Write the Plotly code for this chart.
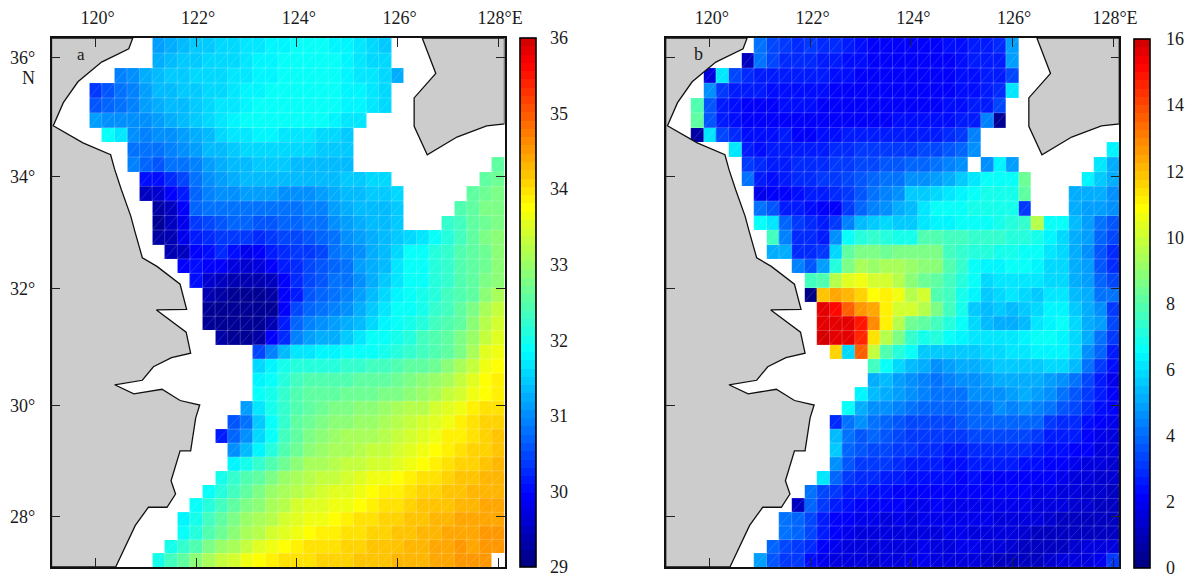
import math
import plotly.graph_objects as go

WIDTH, HEIGHT = 1197, 579
N_COLS, N_ROWS = 36, 37
LON_WEST, CELL = 119.125, 0.25
LAT_SOUTH = 27.08
LON_TICKS = [120, 122, 124, 126, 128]
LON_LABELS = ["120°", "122°", "124°", "126°", "128°E"]
LAT_TICKS = [36, 34, 32.06, 30, 28]
LAT_LABELS = ["36°", "34°", "32°", "30°", "28°"]
SAL_TICKS = [29, 30, 31, 32, 33, 34, 35, 36]
TEMP_TICKS = [0, 2, 4, 6, 8, 10, 12, 14, 16]

# rows are numbered from the north; (row, first column, values)
panel_a = [
(0,8,[31.1,31.2,31.4,31.5,31.5,31.6,31.6,31.65,31.72,31.78,31.82,31.87,31.87,31.87,31.82,31.76,31.66,31.58,31.5]),
(1,8,[31.25,31.35,31.45,31.5,31.55,31.55,31.6,31.68,31.75,31.8,31.85,31.9,31.9,31.9,31.85,31.76,31.7,31.62,31.55]),
(2,5,[30.9,31.0,31.2,31.4,31.45,31.5,31.55,31.6,31.6,31.65,31.7,31.75,31.8,31.85,31.85,31.9,31.85,31.85,31.75,31.7,31.65,31.55,31.2]),
(3,3,[30.35,30.6,30.85,30.95,31.1,31.3,31.4,31.45,31.5,31.6,31.6,31.65,31.75,31.8,31.85,31.9,31.95,31.95,31.9,31.85,31.8,31.75,31.65,31.6]),
(4,3,[30.6,30.7,30.85,30.95,31.1,31.25,31.35,31.4,31.5,31.6,31.65,31.7,31.8,31.85,31.9,31.95,31.95,31.9,31.9,31.85,31.8,31.75,31.7,31.6]),
(5,3,[31.1,31.05,31.0,31.0,31.05,31.15,31.2,31.3,31.45,31.55,31.65,31.75,31.85,31.9,31.9,31.9,31.9,31.85,31.85,31.8,31.7,31.65]),
(6,4,[31.9,31.7,31.0,30.95,31.0,31.05,31.15,31.2,31.4,31.55,31.65,31.7,31.75,31.75,31.7,31.7,31.65,31.6,31.55,31.5]),
(7,6,[30.85,30.8,30.85,30.95,31.05,31.1,31.3,31.4,31.5,31.6,31.6,31.6,31.6,31.55,31.55,31.5,31.45,31.45]),
(8,6,[30.9,30.7,30.6,30.75,30.85,30.95,31.1,31.2,31.35,31.4,31.5,31.5,31.45,31.4,31.35,31.4,31.4,31.4]),
(8,35,[32.55]),
(9,7,[30.0,30.05,30.25,30.45,30.8,31.0,31.15,31.2,31.3,31.3,31.3,31.3,31.3,31.3,31.35,31.4,31.45,31.5,31.55,31.55]),
(9,34,[32.55,32.7]),
(10,7,[29.5,29.6,29.9,30.2,30.65,30.9,31.0,31.05,31.1,31.15,31.1,31.05,31.05,31.05,31.1,31.2,31.3,31.4,31.45,31.5,31.55]),
(10,33,[32.6,32.7,32.75]),
(11,8,[29.3,29.5,29.9,30.7,30.8,30.85,30.8,30.8,30.8,30.85,30.85,30.85,30.9,30.95,31.1,31.2,31.3,31.35,31.4,31.45]),
(11,32,[32.45,32.6,32.75,32.8]),
(12,8,[29.2,29.45,29.85,30.35,30.5,30.6,30.65,30.65,30.6,30.6,30.65,30.7,30.75,30.85,31.0,31.1,31.2,31.3,31.35,31.45]),
(12,31,[32.2,32.35,32.55,32.7,32.8]),
(13,8,[29.25,29.4,29.8,30.15,30.3,30.4,30.4,30.35,30.3,30.4,30.45,30.5,30.55,30.7,30.85,31.0,31.1,31.25,31.35,31.5,31.55,31.7,31.85,32.1,32.3,32.6,32.75,32.85]),
(14,9,[29.35,29.5,29.9,30.05,30.25,30.0,29.85,29.95,30.2,30.3,30.35,30.4,30.45,30.75,30.9,31.05,31.2,31.35,31.6,31.85,31.95,32.1,32.25,32.4,32.55,32.7,32.85]),
(15,10,[29.9,30.0,29.9,29.95,29.75,29.6,29.7,29.9,30.1,30.3,30.5,30.55,30.65,30.85,31.1,31.25,31.4,31.7,31.85,31.95,32.1,32.25,32.4,32.55,32.7,32.9]),
(16,11,[30.05,29.6,29.45,29.4,29.35,29.35,29.5,29.9,30.25,30.5,30.55,30.75,30.85,31.05,31.25,31.5,31.7,31.85,31.95,32.1,32.25,32.4,32.6,32.75,32.9]),
(17,12,[29.35,29.25,29.2,29.2,29.2,29.3,29.9,30.2,30.55,30.65,30.75,30.95,31.1,31.3,31.55,31.75,31.9,32.0,32.15,32.3,32.45,32.6,32.85,33.05]),
(18,12,[29.15,29.15,29.15,29.15,29.15,29.2,29.9,30.45,30.7,30.8,30.9,31.05,31.2,31.45,31.65,31.85,31.95,32.05,32.2,32.3,32.5,32.75,33.1,33.3]),
(19,12,[29.15,29.15,29.15,29.15,29.15,29.4,30.1,30.7,30.95,31.05,31.1,31.2,31.4,31.6,31.8,31.95,32.05,32.15,32.3,32.45,32.6,32.9,33.2,33.4]),
(20,13,[29.25,29.2,29.2,29.25,29.9,30.3,30.9,31.1,31.2,31.25,31.45,31.7,31.85,31.95,32.05,32.15,32.3,32.4,32.6,32.75,33.0,33.3,33.5]),
(21,16,[30.5,30.9,31.3,31.65,31.65,31.8,31.8,31.85,31.85,31.95,32.0,32.1,32.2,32.3,32.4,32.6,32.8,33.1,33.5,33.7]),
(22,16,[31.6,31.8,32.0,32.1,32.1,32.15,32.15,32.2,32.25,32.3,32.35,32.4,32.5,32.6,32.7,32.85,33.05,33.3,33.65,33.8]),
(23,16,[31.75,31.95,32.15,32.3,32.4,32.4,32.45,32.45,32.5,32.55,32.6,32.7,32.8,32.85,33.0,33.1,33.3,33.5,33.79,33.92]),
(24,16,[31.85,32.0,32.2,32.45,32.5,32.55,32.6,32.65,32.7,32.7,32.75,32.8,32.85,32.95,33.1,33.3,33.45,33.65,33.79,33.89]),
(25,15,[31.1,31.65,32.0,32.25,32.45,32.6,32.7,32.75,32.8,32.85,32.9,32.95,33.05,33.2,33.25,33.4,33.5,33.7,33.89,33.96,34.03]),
(26,14,[30.6,30.85,31.45,31.95,32.2,32.5,32.7,32.8,32.85,32.9,32.95,33.0,33.1,33.2,33.3,33.4,33.55,33.65,33.82,33.96,34.06,34.09]),
(27,13,[30.15,30.7,31.0,31.6,31.95,32.3,32.55,32.75,32.85,33.0,33.05,33.05,33.1,33.2,33.3,33.4,33.55,33.7,33.86,33.92,34.03,34.09,34.16]),
(28,14,[31.0,31.4,31.75,32.1,32.45,32.7,32.9,33.0,33.1,33.15,33.2,33.3,33.35,33.45,33.55,33.7,33.79,33.92,34.03,34.09,34.13,34.23]),
(29,14,[31.8,32.0,32.2,32.45,32.7,32.85,33.05,33.15,33.25,33.3,33.35,33.4,33.45,33.55,33.7,33.79,33.92,33.99,34.06,34.13,34.2,34.26]),
(30,13,[32.05,32.25,32.4,32.55,32.75,32.95,33.1,33.25,33.35,33.35,33.45,33.5,33.6,33.7,33.79,33.89,33.96,34.03,34.09,34.16,34.23,34.3,34.3]),
(31,12,[31.95,32.15,32.35,32.55,32.75,32.95,33.1,33.25,33.35,33.45,33.5,33.55,33.65,33.79,33.86,33.92,33.99,34.06,34.13,34.16,34.23,34.3,34.33,34.33]),
(32,11,[31.85,32.15,32.3,32.55,32.75,32.9,33.1,33.25,33.4,33.5,33.55,33.6,33.7,33.75,33.86,33.96,34.03,34.09,34.16,34.2,34.23,34.3,34.33,34.37,34.4]),
(33,10,[31.75,32.0,32.3,32.6,32.75,32.95,33.1,33.25,33.4,33.55,33.65,33.7,33.79,33.89,33.96,33.99,34.06,34.13,34.16,34.2,34.26,34.3,34.37,34.37,34.4,34.43]),
(34,10,[31.85,32.15,32.45,32.7,32.9,33.05,33.25,33.4,33.55,33.7,33.79,33.86,33.92,33.99,34.03,34.06,34.13,34.16,34.2,34.26,34.3,34.37,34.4,34.43,34.47,34.47]),
(35,9,[32.0,32.25,32.45,32.75,32.95,33.15,33.35,33.5,33.65,33.79,33.89,33.96,33.99,34.03,34.06,34.13,34.16,34.2,34.23,34.3,34.33,34.37,34.4,34.47,34.43,34.47,34.47]),
(36,8,[32.05,32.3,32.55,32.85,33.1,33.3,33.45,33.65,33.79,33.89,33.96,33.99,34.03,34.06,34.09,34.13,34.16,34.2,34.23,34.3,34.3,34.33,34.4,34.43,34.47,34.5,34.5]),
]

panel_b = [
(0,7,[4.2,3.4,3.0,2.9,3.0,2.8,2.9,2.5,2.3,2.2,2.2,2.2,2.2,2.1,2.2,2.3,2.4,2.5,2.7,2.8,4.8]),
(1,6,[1.2,4.1,3.3,2.9,2.8,2.8,2.7,2.6,2.4,2.25,2.2,2.1,2.1,2.1,2.1,2.1,2.2,2.3,2.5,2.6,2.7,4.9]),
(2,3,[1.5,6.0,3.3,2.9,2.7,2.6,2.7,2.7,2.6,2.5,2.4,2.3,2.15,2.1,2.0,2.0,2.0,2.0,2.05,2.15,2.25,2.4,2.55,2.7,3.4]),
(3,3,[4.6,3.0,2.6,2.5,2.5,2.4,2.4,2.4,2.4,2.3,2.2,2.2,2.1,2.0,2.0,2.0,2.0,2.05,2.1,2.2,2.3,2.45,2.6,2.75,6.2]),
(4,2,[7.9,3.6,2.6,2.4,2.2,2.1,2.2,2.3,2.3,2.3,2.2,2.2,2.2,2.1,2.1,2.1,2.1,2.1,2.1,2.2,2.3,2.4,2.55,2.7,3.4]),
(5,2,[8.0,3.5,2.5,2.3,2.2,2.2,2.2,2.2,2.2,2.2,2.1,2.0,2.0,2.1,2.2,2.2,2.3,2.3,2.3,2.3,2.4,2.5,2.7,4.3,0.4]),
(6,2,[0.5,6.1,3.3,2.9,2.3,2.3,2.4,2.5,2.2,2.2,2.3,2.4,2.5,2.5,2.5,2.5,2.5,2.6,2.7,2.7,2.8,3.0,4.4]),
(7,5,[6.2,2.6,2.4,2.5,2.5,2.6,2.6,2.7,2.8,2.8,3.0,3.1,3.2,3.2,3.2,3.3,3.3,3.5,3.8,4.5]),
(7,35,[6.4]),
(8,6,[3.2,2.8,2.7,2.7,2.8,2.8,2.9,3.0,3.2,3.3,3.4,3.6,3.7,3.8,3.9,4.1,4.4,4.7]),
(8,25,[4.7,6.4,4.8]),
(8,34,[6.2,5.2]),
(9,6,[4.2,2.6,2.3,2.5,2.8,2.9,3.0,3.1,3.3,3.5,3.8,4.0,4.2,4.5,4.7,4.9,5.2,5.7,6.2,6.5,6.6,6.6,8.4]),
(9,33,[6.3,5.6,5.2]),
(10,7,[1.9,2.1,2.2,2.3,2.5,2.7,2.8,3.2,3.6,4.0,4.3,4.7,5.6,5.5,5.9,6.1,6.4,6.6,6.8,6.9,6.9,8.0]),
(10,32,[5.2,5.1,5.0,4.7]),
(11,7,[4.0,3.6,2.6,2.5,2.3,2.2,2.2,3.2,3.9,4.3,4.6,5.0,5.4,6.1,6.6,6.7,6.7,6.8,6.8,6.8,6.8,3.2]),
(11,32,[5.2,4.8,4.8,4.5]),
(12,7,[6.5,6.0,3.8,3.0,2.8,2.6,3.0,4.4,5.3,5.7,5.9,5.7,5.6,6.1,6.3,6.4,6.6,6.7,6.7,6.8,7.0,7.3,9.6,6.6,6.5,5.3,4.9,4.0,3.7]),
(13,8,[7.5,4.4,2.9,2.8,2.7,4.7,6.5,7.2,7.3,7.2,6.9,6.9,7.9,7.9,7.7,7.5,7.4,7.4,7.3,7.2,7.0,6.9,6.3,5.9,5.2,4.9,3.9,3.4]),
(14,8,[5.0,5.0,2.9,2.9,3.1,5.9,8.1,8.5,8.5,8.4,8.5,8.6,8.6,8.5,7.7,7.4,7.2,7.0,6.9,6.9,6.6,6.6,6.1,5.8,5.2,4.7,3.7,2.9]),
(15,10,[4.3,3.5,4.9,7.0,8.5,9.3,9.2,9.3,9.4,9.0,8.8,8.8,7.8,7.3,6.7,6.4,6.4,6.5,6.5,6.3,5.9,5.8,5.2,4.9,3.7,2.9]),
(16,11,[7.7,7.9,9.5,10.3,10.6,10.0,10.1,9.7,8.8,8.4,8.0,7.7,7.1,6.7,5.9,6.1,6.2,6.2,6.2,5.9,5.9,5.2,4.8,3.9,3.3]),
(17,11,[0.2,11.8,12.3,12.2,11.6,10.9,11.0,10.6,9.7,10.0,7.8,7.5,6.8,6.4,5.7,5.8,6.1,5.9,5.6,6.2,6.2,5.4,5.0,4.2,4.0]),
(18,12,[15.5,15.0,13.7,12.6,12.3,11.2,10.2,10.0,9.6,8.5,7.5,6.8,5.7,5.4,5.5,5.4,5.5,5.9,6.3,6.4,5.7,5.0,4.7,3.2]),
(19,12,[15.7,15.7,15.5,14.8,12.9,11.1,9.5,8.3,8.1,7.6,7.0,6.7,5.9,5.4,5.2,5.2,5.4,6.0,6.4,6.5,5.9,5.1,4.8,3.3]),
(20,12,[15.8,15.6,15.6,14.5,11.4,9.5,8.5,7.3,6.9,7.1,6.7,6.4,6.2,6.0,6.0,6.2,6.4,6.5,6.5,6.4,5.9,5.0,4.2,3.0]),
(21,13,[11.5,5.9,13.6,9.8,7.9,7.0,6.5,5.7,5.6,5.5,5.5,5.7,5.8,5.9,6.1,6.2,6.3,6.4,6.3,5.9,4.6,3.8,2.7]),
(22,16,[7.5,6.5,5.9,5.3,5.0,4.7,4.9,5.1,5.1,5.3,5.5,5.6,5.7,5.7,5.9,5.8,5.4,4.0,3.2,2.3]),
(23,16,[5.2,5.3,4.9,4.5,4.3,4.2,4.3,4.6,4.6,4.8,5.0,5.0,5.2,5.0,4.9,4.5,4.0,3.3,2.7,1.8]),
(24,15,[6.3,5.3,5.2,4.9,4.7,4.3,4.1,4.1,4.2,4.7,4.6,4.5,4.8,5.0,4.8,4.6,4.0,3.5,3.0,2.6,2.0]),
(25,14,[6.7,5.0,4.6,4.6,4.3,4.0,3.8,3.8,3.8,3.9,4.0,4.2,4.5,4.3,4.5,4.4,4.0,3.5,3.3,2.9,2.4,2.0]),
(26,13,[2.9,4.2,4.5,4.2,3.9,3.7,3.4,3.4,3.3,3.4,3.5,3.8,3.9,3.9,3.8,3.8,3.8,3.2,2.9,2.8,2.4,2.1,1.9]),
(27,13,[5.3,4.1,3.7,3.8,3.6,3.3,3.2,3.1,3.0,3.1,3.2,3.3,3.4,3.4,3.3,3.3,3.2,2.7,2.5,2.5,2.2,1.9,1.7]),
(28,13,[5.6,3.9,3.5,3.3,3.4,3.0,3.0,2.9,2.8,2.7,2.7,2.8,2.9,2.9,2.9,2.8,2.6,2.4,2.3,2.2,2.0,1.7,1.5]),
(29,13,[4.6,3.5,3.1,3.0,3.0,2.9,2.7,2.6,2.5,2.4,2.4,2.5,2.5,2.5,2.5,2.4,2.3,2.2,2.0,1.9,1.7,1.5,1.4]),
(30,12,[6.1,3.8,3.1,2.9,2.8,2.7,2.5,2.4,2.4,2.3,2.3,2.2,2.3,2.2,2.2,2.2,2.2,2.1,2.0,1.8,1.6,1.5,1.4,1.3]),
(31,11,[4.0,3.3,3.0,2.7,2.6,2.4,2.3,2.2,2.2,2.1,2.1,2.2,2.1,2.1,2.1,2.0,2.0,2.0,1.9,1.8,1.6,1.5,1.4,1.3,1.2]),
(32,10,[1.0,3.8,3.0,2.7,2.3,2.2,2.1,2.0,2.0,1.9,1.9,2.0,1.9,1.9,1.9,1.9,1.8,1.8,1.8,1.7,1.6,1.5,1.4,1.3,1.1,1.1]),
(33,9,[4.0,3.9,3.4,2.6,2.1,2.0,1.9,1.8,1.7,1.8,1.7,1.8,1.8,1.8,1.8,1.9,1.8,1.7,1.7,1.6,1.5,1.3,1.1,1.1,1.1,1.0,1.0]),
(34,9,[4.1,3.9,3.3,2.5,2.1,1.8,1.6,1.6,1.5,1.6,1.6,1.7,1.7,1.9,1.8,1.7,1.7,1.6,1.5,1.4,1.2,1.0,1.0,1.0,1.1,1.1,1.0]),
(35,8,[3.9,3.4,3.1,2.8,2.2,1.9,1.7,1.6,1.6,1.5,1.6,1.7,1.8,1.7,1.7,1.8,1.8,1.6,1.5,1.4,1.2,1.1,1.0,1.2,1.3,1.5,1.6,1.6]),
(36,7,[4.8,3.6,3.2,3.1,2.3,1.9,1.7,1.6,1.5,1.4,1.5,1.7,1.8,1.8,1.7,1.7,1.6,1.5,1.4,1.2,1.2,1.2,1.1,1.3,1.5,1.6,1.7,1.9,3.0]),
]

china_lon = [119.125,120.74,120.66,120.12,119.65,119.36,119.16,119.75,120.30,120.38,120.51,120.70,120.78,120.93,121.22,121.68,121.81,121.21,121.80,121.89,121.51,121.15,120.93,120.38,120.76,121.32,121.68,122.07,121.99,121.89,121.68,121.50,121.59,121.42,121.05,120.79,120.40,119.125,119.125]
china_lat = [36.33,36.33,36.15,35.93,35.60,35.25,34.86,34.57,34.37,34.12,33.78,33.32,33.06,32.60,32.45,32.14,31.70,31.69,31.30,30.93,30.85,30.69,30.45,30.37,30.21,30.29,30.09,30.01,29.78,29.19,29.19,28.65,28.41,28.17,28.17,27.84,27.08,27.08,36.33]
korea_lon = [126.49,126.76,126.33,126.33,126.59,127.18,127.77,128.125,128.125,126.49]
korea_lat = [36.33,35.74,35.33,34.85,34.37,34.67,34.86,34.89,36.33,36.33]

LAND = "#cccccc"
FONT = "Liberation Serif"
TOP, BOTTOM = 38, 567


def merc(lat):
    return math.log(math.tan(math.radians(45 + lat / 2)))


def jet_scale(levels=64):
    stops = [(0, (0, 0, 127)), (.136, (0, 0, 255)), (.408, (0, 255, 255)),
             (.68, (255, 255, 0)), (.951, (255, 0, 0)), (1, (204, 0, 0))]

    def colour(f):
        for (a, ca), (b, cb) in zip(stops, stops[1:]):
            if f <= b:
                t = (f - a) / (b - a)
                return "rgb(%d,%d,%d)" % tuple(round(p + (q - p) * t) for p, q in zip(ca, cb))
        return "rgb(204,0,0)"

    out = []
    for i in range(levels):
        c = colour((i + .5) / levels)
        out += [[i / levels, c], [(i + 1) / levels, c]]
    return out


def to_grid(segments):
    grid = [[None] * N_COLS for _ in range(N_ROWS)]
    for row, start, values in segments:
        for k, v in enumerate(values):
            grid[N_ROWS - 1 - row][start + k] = v
    return grid


lon_edges = [LON_WEST + CELL * k for k in range(N_COLS + 1)]
lat_edges = [LAT_SOUTH + CELL * k for k in range(N_ROWS + 1)]
y_edges = [merc(v) for v in lat_edges]

fig = go.Figure()


def add_panel(idx, segments, zmin, zmax, ticks, frame, bar_x, bar_w, bar_top, bar_bottom, bar_gap):
    xa = "x" if idx == 1 else "x2"
    ya = "y" if idx == 1 else "y2"
    grid = to_grid(segments)
    fig.add_trace(go.Heatmap(
        z=grid, x=lon_edges, y=y_edges, xaxis=xa, yaxis=ya, zmin=zmin, zmax=zmax,
        colorscale=jet_scale(), hoverinfo="skip", zsmooth=False,
        colorbar=dict(
            x=bar_x / WIDTH, xanchor="left", xpad=0, ypad=0,
            y=1 - bar_top / HEIGHT, yanchor="top",
            len=(bar_bottom - bar_top) / HEIGHT, lenmode="fraction",
            thickness=bar_w, thicknessmode="pixels",
            outlinecolor="black", outlinewidth=1.6, borderwidth=0,
            tickmode="array", tickvals=ticks, ticktext=[str(t) for t in ticks],
            ticks="outside", ticklen=bar_gap, tickcolor="rgba(0,0,0,0)",
            tickfont=dict(family=FONT, size=18, color="#1a1a1a"),
        )))
    # light seams of the triangulated mesh
    gx, gy, dx, dy = [], [], [], []
    for r in range(N_ROWS):
        for c in range(N_COLS):
            if grid[r][c] is None:
                continue
            x0, x1 = lon_edges[c], lon_edges[c + 1]
            y0, y1 = y_edges[r], y_edges[r + 1]
            gx += [x0, x1, x1, None, x0, x0, x1, None]
            gy += [y1, y1, y0, None, y1, y0, y0, None]
            dx += [x0, x1, None]
            dy += [y0, y1, None]
    fig.add_trace(go.Scatter(x=gx, y=gy, xaxis=xa, yaxis=ya, mode="lines", hoverinfo="skip",
                             line=dict(color="rgba(255,255,255,0.17)", width=0.7), showlegend=False))
    fig.add_trace(go.Scatter(x=dx, y=dy, xaxis=xa, yaxis=ya, mode="lines", hoverinfo="skip",
                             line=dict(color="rgba(255,255,255,0.3)", width=0.5), showlegend=False))
    for lo, la in ((china_lon, china_lat), (korea_lon, korea_lat)):
        fig.add_trace(go.Scatter(x=lo, y=[merc(v) for v in la], xaxis=xa, yaxis=ya, mode="lines",
                                 fill="toself", fillcolor=LAND, hoverinfo="skip", showlegend=False,
                                 line=dict(color="#111111", width=1.3)))
    common = dict(showgrid=False, zeroline=False, ticks="inside", ticklen=9, tickwidth=1,
                  tickcolor="#222222", showline=True, linecolor="#111111", linewidth=1.6,
                  mirror="ticks", layer="above traces", tickfont=dict(family=FONT, size=18, color="#1a1a1a"))
    xkw = dict(domain=[frame[0] / WIDTH, frame[1] / WIDTH], range=[LON_WEST, LON_WEST + CELL * N_COLS],
               side="top", tickmode="array", tickvals=LON_TICKS, ticktext=LON_LABELS,
               anchor=ya, ticklabelstandoff=5, ticklabelshift=2, **common)
    ykw = dict(domain=[1 - BOTTOM / HEIGHT, 1 - TOP / HEIGHT], range=[y_edges[0], y_edges[-1]],
               tickmode="array", tickvals=[merc(v) for v in LAT_TICKS], ticktext=LAT_LABELS,
               anchor=xa, showticklabels=(idx == 1), ticklabelstandoff=11, **common)
    fig.update_layout({"xaxis" if idx == 1 else "xaxis2": xkw, "yaxis" if idx == 1 else "yaxis2": ykw})


add_panel(1, panel_a, 29, 36, SAL_TICKS, (51.5, 504.5), 519.5, 16, 38, 567, 10)
add_panel(2, panel_b, 0, 16, TEMP_TICKS, (665.7, 1119.3), 1134, 16, 39, 568, 12)

ann = dict(xref="paper", yref="paper", showarrow=False, font=dict(family=FONT, size=18, color="#1a1a1a"))
fig.update_layout(
    width=WIDTH, height=HEIGHT, autosize=False, margin=dict(l=0, r=0, t=0, b=0, autoexpand=False),
    paper_bgcolor="white", plot_bgcolor="white", showlegend=False,
    annotations=[
        dict(text="N", x=37 / WIDTH, y=1 - 78 / HEIGHT, xanchor="right", yanchor="middle", **ann),
        dict(text="a", x=81 / WIDTH, y=1 - 55 / HEIGHT, xanchor="center", yanchor="middle",
             xref="paper", yref="paper", showarrow=False, font=dict(family=FONT, size=17, color="#1a1a1a")),
        dict(text="b", x=698 / WIDTH, y=1 - 54 / HEIGHT, xanchor="center", yanchor="middle", **ann),
    ])
fig.write_html("out.html", config=dict(displayModeBar=False), post_script="document.body.style.margin='0';")
